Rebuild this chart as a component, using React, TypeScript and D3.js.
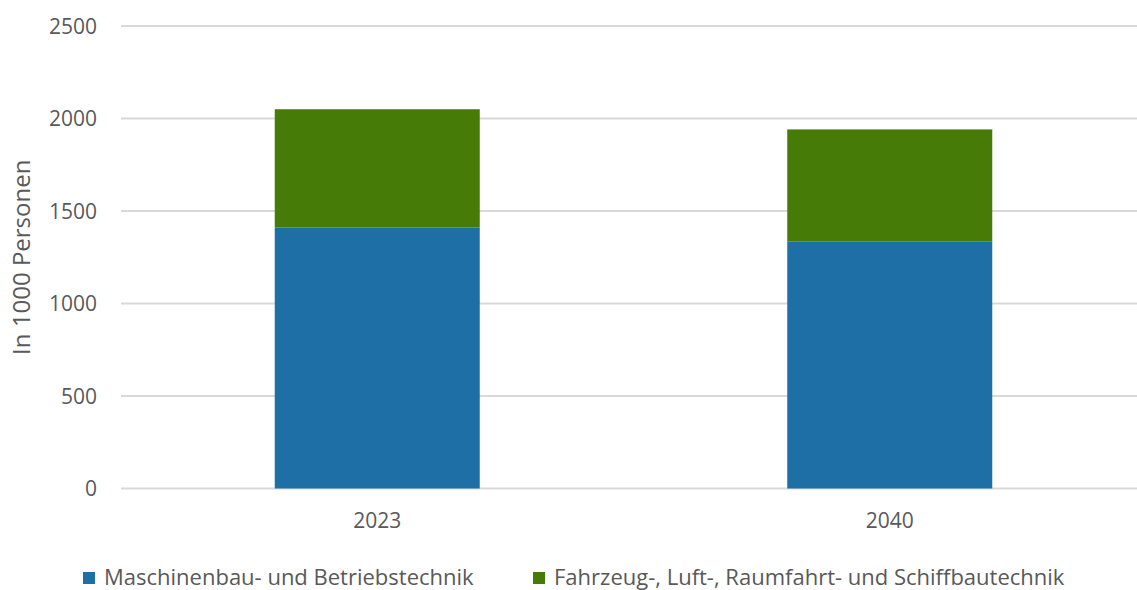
import React from "react";
import * as d3 from "d3";

const categories = ["2023", "2040"];
const seriesNames = ["Maschinenbau- und Betriebstechnik", "Fahrzeug-, Luft-, Raumfahrt- und Schiffbautechnik"];
const maschinenbau = [1410, 1334];
const fahrzeug = [640, 607];
const yTicks = [0, 500, 1000, 1500, 2000, 2500];
const colors = ["#1d6fa5", "#467b07"];

const W = 1137;
const H = 590;
const FONT = "'Open Sans', 'Noto Sans', sans-serif";

export default function App() {
  const x = d3.scaleBand<string>().domain(categories).range([121, 1146]).padding(0);
  const y = d3.scaleLinear().domain([0, 2500]).range([488.5, 26]);
  const barW = x.bandwidth() * 0.4;

  const rows = categories.map((c, i) => ({ cat: c, m: maschinenbau[i], f: fahrzeug[i] }));
  const stack = d3.stack<any>().keys(["m", "f"])(rows);

  const legendX = [83, 533];

  return (
    <svg
      width={W}
      height={H}
      style={{ position: "absolute", left: 0, top: 0, background: "#fff", fontFamily: FONT }}
    >
      {yTicks.map((t) => (
        <g key={t}>
          <line x1={121} x2={W} y1={y(t)} y2={y(t)} stroke="#d9d9d9" strokeWidth={2} />
          <text x={97} y={y(t)} dy="0.36em" textAnchor="end" fontSize={21} fill="#595959">
            {t}
          </text>
        </g>
      ))}
      {stack.map((layer, si) =>
        layer.map((d, i) => (
          <rect
            key={`${si}-${i}`}
            x={(x(categories[i]) as number) + (x.bandwidth() - barW) / 2}
            y={y(d[1])}
            width={barW}
            height={y(d[0]) - y(d[1])}
            fill={colors[si]}
          />
        ))
      )}
      {categories.map((c) => (
        <text
          key={c}
          x={(x(c) as number) + x.bandwidth() / 2}
          y={528}
          textAnchor="middle"
          fontSize={21}
          fill="#595959"
        >
          {c}
        </text>
      ))}
      <text
        transform={`translate(30, ${(y(0) + y(2500)) / 2}) rotate(-90)`}
        textAnchor="middle"
        fontSize={24}
        fill="#595959"
      >
        In 1000 Personen
      </text>
      {seriesNames.map((s, i) => (
        <g key={s}>
          <rect x={legendX[i]} y={572} width={12} height={12} fill={colors[i]} />
          <text x={legendX[i] + 21} y={585} fontSize={22} fill="#595959">
            {s}
          </text>
        </g>
      ))}
    </svg>
  );
}
